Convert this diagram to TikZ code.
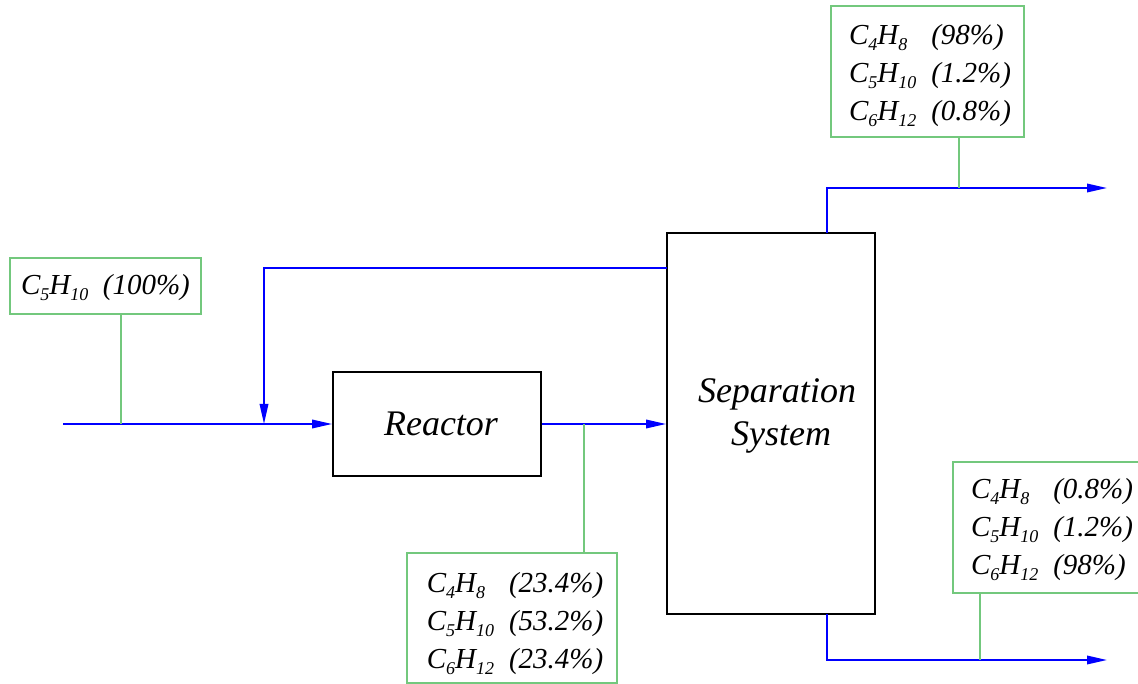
\documentclass[tikz,border=0pt]{standalone}
\usepackage{fontspec}
\setmainfont{Liberation Serif}
\usetikzlibrary{arrows.meta}
\definecolor{tapgreen}{RGB}{115,200,125}
\newcommand\sbx[1]{\raisebox{-0.42ex}{\fontsize{18}{18}\selectfont #1}}
\begin{document}
\begin{tikzpicture}[x=1pt,y=-1pt,
  stream/.style={draw=blue,line width=1.8pt},
  arr/.style={-{Triangle[length=20pt,width=8.5pt]}},
  tap/.style={draw=tapgreen,line width=1.5pt},
  unit/.style={draw=black,line width=1.8pt,inner sep=0pt},
  comp/.style={draw=tapgreen,line width=1.5pt,inner sep=0pt,
    font=\fontsize{29}{38}\selectfont\itshape},
  txt/.style={inner sep=0pt,font=\fontsize{29}{38}\selectfont\itshape},
  lbl/.style={font=\fontsize{36}{43}\selectfont\itshape,align=center,inner sep=0pt}]
\useasboundingbox (0,0) rectangle (1138,684);
% units
\node[unit,minimum width=208pt,minimum height=104pt] (reactor) at (437,424) {};
\node[lbl] (reactorlbl) at (441,424) {Reactor};
\node[unit,minimum width=208pt,minimum height=381pt] (sep) at (771,423.5) {};
\node[lbl] (seplbl) at (777,416) {Separation\\\hspace*{8pt}System};
% composition boxes
\node[comp,minimum width=191pt,minimum height=56pt] (feed) at (105.5,286) {};
\node[txt] (feedtxt) at (105.5,288) {C\sbx{5}H\sbx{10}\ \ (100\%)};
\node[comp,minimum width=193pt,minimum height=131pt] (top) at (927.5,71.5) {};
\node[txt] (toptxt) at (930,75)
  {\begin{tabular}{@{}l@{\hspace{15pt}}l@{}}
   C\sbx{4}H\sbx{8} & (98\%)\\
   C\sbx{5}H\sbx{10} & (1.2\%)\\
   C\sbx{6}H\sbx{12} & (0.8\%)
   \end{tabular}};
\node[comp,minimum width=210pt,minimum height=130pt] (mix) at (512,618) {};
\node[txt] (mixtxt) at (515,623)
  {\begin{tabular}{@{}l@{\hspace{15pt}}l@{}}
   C\sbx{4}H\sbx{8} & (23.4\%)\\
   C\sbx{5}H\sbx{10} & (53.2\%)\\
   C\sbx{6}H\sbx{12} & (23.4\%)
   \end{tabular}};
\node[comp,minimum width=194pt,minimum height=131pt] (bot) at (1050,527.5) {};
\node[txt] (bottxt) at (1052,529)
  {\begin{tabular}{@{}l@{\hspace{15pt}}l@{}}
   C\sbx{4}H\sbx{8} & (0.8\%)\\
   C\sbx{5}H\sbx{10} & (1.2\%)\\
   C\sbx{6}H\sbx{12} & (98\%)
   \end{tabular}};
% coordinates
\coordinate (in) at (63,424);
\coordinate (rj) at (264,424);
\coordinate (r1) at (667,268);
\coordinate (topstart) at (827,233);
\coordinate (topend) at (1107,188);
\coordinate (botstart) at (827,614);
\coordinate (botend) at (1107,660);
\coordinate (t1) at (121,424);
\coordinate (t2) at (584,424);
\coordinate (t3) at (959,188);
\coordinate (t4) at (980,660);
% streams
\draw[stream,arr] (in) -- (reactor.west);
\draw[stream,arr] (r1) -| (rj);
\draw[stream,arr] (reactor.east) -- (sep.west |- reactor.east);
\draw[stream,arr] (topstart) |- (topend);
\draw[stream,arr] (botstart) |- (botend);
% taps
\draw[tap] (t1) -- (t1 |- feed.south);
\draw[tap] (t2) -- (t2 |- mix.north);
\draw[tap] (t3) -- (t3 |- top.south);
\draw[tap] (t4) -- (t4 |- bot.south);
\end{tikzpicture}
\end{document}
